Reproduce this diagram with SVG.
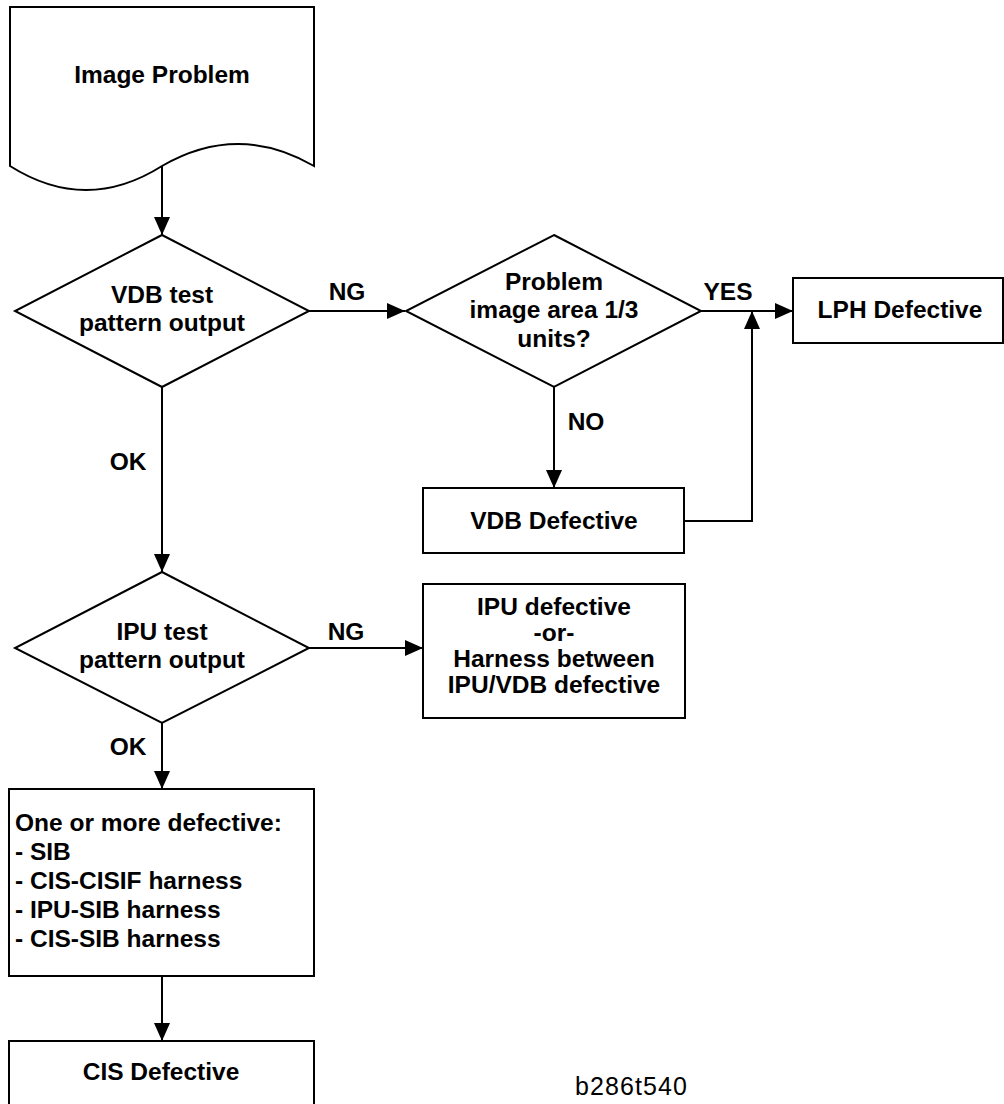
<svg xmlns="http://www.w3.org/2000/svg" width="1004" height="1104" viewBox="0 0 1004 1104">
<style>
.s{fill:#fff;stroke:#000;stroke-width:2}
.t{font-family:"Liberation Sans",Arial,sans-serif;font-weight:bold;font-size:24.5px;fill:#000;text-anchor:middle}
.l{text-anchor:start}
.c{fill:none;stroke:#000;stroke-width:2;marker-end:url(#arr)}
.n{font-family:"Liberation Sans",Arial,sans-serif;font-size:25px;fill:#000}
</style>
<defs>
<marker id="arr" viewBox="0 0 18 16" refX="18" refY="8" markerWidth="18" markerHeight="16" orient="auto" markerUnits="userSpaceOnUse">
<path d="M0,0 L18,8 L0,16 Z" fill="#000"/>
</marker>
</defs>
<rect width="1004" height="1104" fill="#fff"/>
<g id="connectors">
<path class="c" d="M162,166 V235"/>
<path class="c" d="M309,311 H405"/>
<path class="c" d="M701,311 H793"/>
<path class="c" d="M554,387 V488"/>
<path class="c" d="M684,521 H752 V311"/>
<path class="c" d="M162,387 V572"/>
<path class="c" d="M309,648 H423"/>
<path class="c" d="M162,723 V789"/>
<path class="c" d="M162,976 V1041"/>
<text class="t" x="347" y="300">NG</text>
<text class="t" x="728" y="300">YES</text>
<text class="t" x="586" y="430">NO</text>
<text class="t" x="128" y="470">OK</text>
<text class="t" x="346" y="640">NG</text>
<text class="t" x="128" y="755">OK</text>
</g>
<g id="image-problem">
<path class="s" d="M10,7 H314 V166 Q238,122 162,166 Q86,214 10,166 Z"/>
<text class="t" x="162" y="83">Image Problem</text>
</g>
<g id="vdb-test">
<path class="s" d="M162,235 L309,311 L162,387 L15,311 Z"/>
<text class="t" x="162" y="303">VDB test</text>
<text class="t" x="162" y="331">pattern output</text>
</g>
<g id="problem-area">
<path class="s" d="M554,235 L701,311 L554,387 L406,311 Z"/>
<text class="t" x="554" y="290">Problem</text>
<text class="t" x="554" y="318">image area 1/3</text>
<text class="t" x="554" y="347">units?</text>
</g>
<g id="lph-defective">
<rect class="s" x="793" y="278" width="210" height="65"/>
<text class="t" x="900" y="318">LPH Defective</text>
</g>
<g id="vdb-defective">
<rect class="s" x="423" y="488" width="261" height="65"/>
<text class="t" x="554" y="529">VDB Defective</text>
</g>
<g id="ipu-test">
<path class="s" d="M162,572 L309,648 L162,723 L15,648 Z"/>
<text class="t" x="162" y="640">IPU test</text>
<text class="t" x="162" y="668">pattern output</text>
</g>
<g id="ipu-defective">
<rect class="s" x="423" y="584" width="262" height="134"/>
<text class="t" x="554" y="615">IPU defective</text>
<text class="t" x="554" y="641">-or-</text>
<text class="t" x="554" y="667">Harness between</text>
<text class="t" x="554" y="693">IPU/VDB defective</text>
</g>
<g id="one-or-more">
<rect class="s" x="9" y="789" width="305" height="187"/>
<text class="t l" x="15" y="831">One or more defective:</text>
<text class="t l" x="15" y="860">- SIB</text>
<text class="t l" x="15" y="889">- CIS-CISIF harness</text>
<text class="t l" x="15" y="918">- IPU-SIB harness</text>
<text class="t l" x="15" y="947">- CIS-SIB harness</text>
</g>
<g id="cis-defective">
<rect class="s" x="9" y="1041" width="305" height="80"/>
<text class="t" x="161" y="1080">CIS Defective</text>
</g>
<text class="n" x="575" y="1095" textLength="112">b286t540</text>
</svg>
